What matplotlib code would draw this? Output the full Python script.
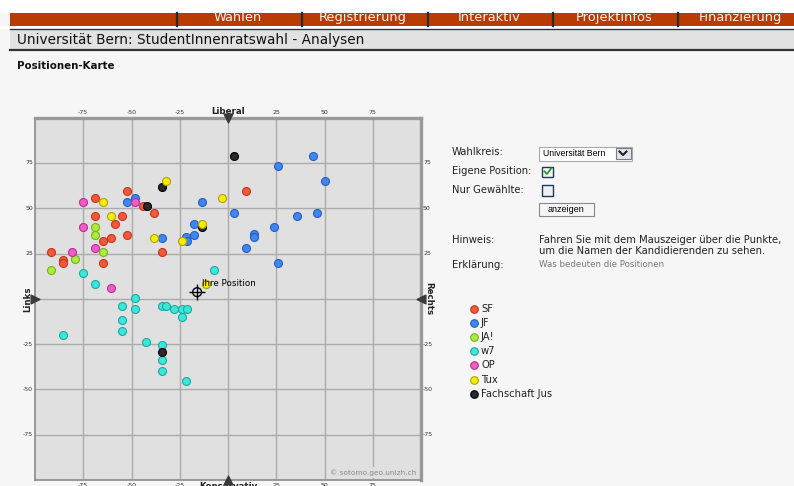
import matplotlib.pyplot as plt
from matplotlib.patches import Rectangle

# --- data ---
parties = ['SF', 'JF', 'JA!', 'w7', 'OP', 'Tux', 'Fachschaft Jus']
fills = ['#f4583a', '#3f86f2', '#acec3a', '#3ae8da', '#f05cc8', '#f8ec00', '#2a2a2a']
edges = ['#c0381e', '#2560c0', '#78b020', '#1fa8a0', '#b83090', '#b0a200', '#000000']

sf_x = [-52.4, -68.8, -44.0, 9.3, -38.3, -68.8, -54.7, -58.6, -60.7, -64.7, -52.4, -34.0, -91.6, -85.4, -85.4, -64.7]
sf_y = [59.5, 55.8, 51.5, 59.5, 47.3, 45.7, 45.7, 41.4, 33.7, 31.9, 35.5, 25.8, 25.8, 21.5, 19.7, 19.9]

jf_x = [-48.3, -52.4, -13.5, 2.9, -17.8, -17.8, -21.9, -21.5, -34.0, 44.0, 25.7, 50.4, 35.7, 46.3, 23.7, 13.3, 13.3, 9.3, 25.7]
jf_y = [55.6, 53.4, 53.4, 47.3, 41.4, 35.5, 33.9, 32.2, 33.7, 79.0, 73.5, 65.2, 45.7, 47.3, 39.6, 35.7, 33.9, 27.8, 19.9]

ja_x = [-68.8, -68.8, -64.7, -79.3, -91.6]
ja_y = [39.8, 35.5, 25.8, 21.9, 15.9]

w7_x = [-75.2, -7.2, -68.8, -48.3, -54.7, -48.3, -34.0, -31.9, -28.0, -23.6, -21.5, -23.6, -54.7, -54.7, -85.4, -42.4, -34.0, -34.0, -34.0, -21.7]
w7_y = [14.2, 15.9, 8.3, 0.4, -3.9, -5.7, -3.9, -3.9, -5.7, -5.7, -5.7, -9.8, -11.8, -17.7, -19.9, -23.6, -25.4, -33.7, -39.6, -45.5]

op_x = [-75.2, -48.3, -75.2, -68.8, -81.0, -60.7]
op_y = [53.4, 53.4, 39.8, 27.8, 25.8, 6.2]

tux_x = [-31.9, -64.7, -3.1, -60.7, -13.5, -23.6, -38.3, -11.4]
tux_y = [65.2, 53.4, 55.6, 45.7, 41.4, 31.9, 33.7, 8.3]

jus_x = [2.9, -34.0, -42.2, -13.5, -34.0]
jus_y = [79.0, 61.7, 51.5, 39.8, -29.5]

own_pos = (-16.0, 3.7)
ticks = [-75, -50, -25, 0, 25, 50, 75]
tick_labels = ['-75', '-50', '-25', '', '25', '50', '75']
nav_items = ['Wahlen', 'Registrierung', 'Interaktiv', 'Projektinfos', 'Finanzierung']

xs = [sf_x, jf_x, ja_x, w7_x, op_x, tux_x, jus_x]
ys = [sf_y, jf_y, ja_y, w7_y, op_y, tux_y, jus_y]

plt.rcParams['font.family'] = ['DejaVu Sans']

fig = plt.figure(figsize=(7.94, 4.86), dpi=100)
fig.patch.set_facecolor('#f6f6f6')

# background axes in pixel coordinates for the page around the chart
bg = fig.add_axes([0, 0, 1, 1])
bg.set_xlim(0, 794)
bg.set_ylim(486, 0)
bg.axis('off')

bg.add_patch(Rectangle((0, 0), 794, 13.5, fc='white', ec='none'))
bar = Rectangle((10, 13.5), 784, 12.5, fc='#b83c00', ec='none')
bg.add_patch(bar)
bg.add_patch(Rectangle((0, 26), 794, 3, fc='white', ec='none'))
for sx in [177, 302, 428, 553, 678]:
    bg.plot([sx, sx], [13.5, 26], color='#2a2a2a', lw=1.6)
nav_x = [238, 363, 489, 614, 740]
for nx, name in zip(nav_x, nav_items):
    t = bg.text(nx, 21, name, color='#f4f4f4', fontsize=9.4, ha='center', va='baseline')
    t.set_clip_path(bar)

# title band
bg.add_patch(Rectangle((10, 29), 784, 21, fc='#e2e2e2', ec='none'))
bg.plot([10, 794], [29.5, 29.5], color='#333333', lw=1)
bg.plot([10, 794], [50.5, 50.5], color='#333333', lw=1.6)
bg.text(17, 40, 'Universität Bern: StudentInnenratswahl - Analysen', fontsize=9.8,
        color='#111111', va='center')
bg.text(17, 66, 'Positionen-Karte', fontsize=7.4, fontweight='bold', color='#111111', va='center')

# right panel
fs = 7.2
bg.text(452, 152, 'Wahlkreis:', fontsize=fs, va='center', color='#222222')
bg.add_patch(Rectangle((539, 146.5), 93, 14, fc='white', ec='#aaaaaa', lw=0.8))
bg.text(543, 153.5, 'Universität Bern', fontsize=6.3, family='Liberation Sans', va='center')
bg.add_patch(Rectangle((616, 148), 14.5, 10.5, fc='#e4e4ec', ec='#7a7a8a', lw=0.8))
bg.plot([619.5, 623, 626.5], [151.5, 155, 151.5], color='#222222', lw=1.5)

bg.text(452, 171, 'Eigene Position:', fontsize=fs, va='center', color='#222222')
bg.add_patch(Rectangle((542, 166.5), 11, 10, fc='#f6f8fa', ec='#1c3a5a', lw=1))
bg.plot([544.5, 547, 551], [171.5, 174, 168.5], color='#2a9a2a', lw=1.3)

bg.text(452, 190, 'Nur Gewählte:', fontsize=fs, va='center', color='#222222')
bg.add_patch(Rectangle((542, 185), 11, 10.5, fc='#eef0f4', ec='#1c3a5a', lw=1))

bg.add_patch(Rectangle((539, 202.5), 55, 13, fc='#f6f6f6', ec='#888888', lw=0.8))
bg.text(566.5, 209.5, 'anzeigen', fontsize=6.5, family='Liberation Sans', ha='center', va='center')

bg.text(452, 240, 'Hinweis:', fontsize=fs, va='center', color='#222222')
bg.text(539, 240, 'Fahren Sie mit dem Mauszeiger über die Punkte,', fontsize=fs,
        va='center', color='#222222')
bg.text(539, 251, 'um die Namen der Kandidierenden zu sehen.', fontsize=fs,
        va='center', color='#222222')
bg.text(452, 264.5, 'Erklärung:', fontsize=fs, va='center', color='#222222')
bg.text(539, 264.5, 'Was bedeuten die Positionen', fontsize=6.2, va='center', color='#777777')

# legend
for i, name in enumerate(parties):
    ly = 308.5 + i * 14.2
    bg.scatter([473.5], [ly], s=30, c=fills[i], edgecolors=edges[i], linewidths=0.8)
    bg.text(481, ly, name, fontsize=fs, va='center', color='#222222')

# --- the position map ---
ax = fig.add_axes([35 / 794, 1 - 480 / 486, 386 / 794, 362.3 / 486], zorder=3)
ax.set_facecolor('#e0e0e0')
ax.set_xlim(-100, 100)
ax.set_ylim(-100, 100)
ax.set_xticks([])
ax.set_yticks([])
for t in ticks:
    ax.axvline(t, color='#ababab', lw=1, zorder=1)
    ax.axhline(t, color='#ababab', lw=1, zorder=1)
for side in ['left', 'bottom']:
    ax.spines[side].set_color('#8a8a8a')
    ax.spines[side].set_linewidth(1.2)
for side in ['top', 'right']:
    ax.spines[side].set_color('#999999')
    ax.spines[side].set_linewidth(2.4)

for i in range(len(parties)):
    if parties[i] in ('Tux', 'Fachschaft Jus'):
        continue
    ax.scatter(xs[i], ys[i], s=33, c=fills[i], edgecolors=edges[i], linewidths=0.8, zorder=4)
# black before yellow
ax.scatter(jus_x, jus_y, s=33, c=fills[6], edgecolors=edges[6], linewidths=0.8, zorder=4)
ax.scatter(tux_x, tux_y, s=33, c=fills[5], edgecolors=edges[5], linewidths=0.8, zorder=4)

# own position crosshair
ax.scatter([own_pos[0]], [own_pos[1]], s=40, facecolors='none', edgecolors='black',
           linewidths=1, zorder=5)
ax.scatter([own_pos[0]], [own_pos[1]], s=140, marker='+', c='black', linewidths=1, zorder=5)
ax.annotate('Ihre Position', xy=own_pos, xytext=(5, 9), textcoords='offset pixels',
            fontsize=6.3, va='center', zorder=6)

# axis end arrows
ax.scatter([0], [100], marker='v', s=40, c='#3a3a3a', clip_on=False, zorder=6)
ax.scatter([0], [-100], marker='^', s=40, c='#3a3a3a', clip_on=False, zorder=6)
ax.scatter([-100], [0], marker='>', s=40, c='#3a3a3a', clip_on=False, zorder=6)
ax.scatter([100], [0], marker='<', s=40, c='#3a3a3a', clip_on=False, zorder=6)

# tick labels around the map (bottom row sits at the image edge, as in the page)
for t, lab in zip(ticks, tick_labels):
    if lab == '':
        continue
    ax.annotate(lab, xy=(t, 1), xycoords=('data', 'axes fraction'), xytext=(0, 3),
                textcoords='offset pixels', ha='center', va='bottom', fontsize=4.5,
                color='#333333', annotation_clip=False)
    ax.annotate(lab, xy=(t, 0), xycoords=('data', 'axes fraction'), xytext=(0, -3),
                textcoords='offset pixels', ha='center', va='top', fontsize=4.5,
                color='#333333', annotation_clip=False)
    ax.annotate(lab, xy=(1, t), xycoords=('axes fraction', 'data'), xytext=(2, 0),
                textcoords='offset pixels', ha='left', va='center', fontsize=4.5,
                color='#333333', annotation_clip=False)
    ax.annotate(lab, xy=(0, t), xycoords=('axes fraction', 'data'), xytext=(-2, 0),
                textcoords='offset pixels', ha='right', va='center', fontsize=4.5,
                color='#333333', annotation_clip=False)

ax.annotate('Liberal', xy=(0, 1), xycoords=('data', 'axes fraction'), xytext=(0, 2),
            textcoords='offset pixels', ha='center', va='bottom', fontsize=6.2,
            fontweight='bold', color='#222222', annotation_clip=False)
ax.annotate('Konservativ', xy=(0, 0), xycoords=('data', 'axes fraction'), xytext=(0, -2),
            textcoords='offset pixels', ha='center', va='top', fontsize=6.2,
            fontweight='bold', color='#222222', annotation_clip=False)
ax.annotate('Links', xy=(0, 0), xycoords=('axes fraction', 'data'), xytext=(-3, 0),
            textcoords='offset pixels', ha='right', va='center', rotation=90, fontsize=6.2,
            fontweight='bold', color='#222222', annotation_clip=False)
ax.annotate('Rechts', xy=(1, 0), xycoords=('axes fraction', 'data'), xytext=(3, 0),
            textcoords='offset pixels', ha='left', va='center', rotation=-90, fontsize=6.2,
            fontweight='bold', color='#222222', annotation_clip=False)

ax.text(97.5, -96, '© sotomo.geo.unizh.ch', ha='right', va='center', fontsize=5.3,
        color='#8a8a8a', zorder=6,
        bbox=dict(fc='#e0e0e0', ec='none', pad=1.5))

fig.savefig('out.png', dpi=100)
